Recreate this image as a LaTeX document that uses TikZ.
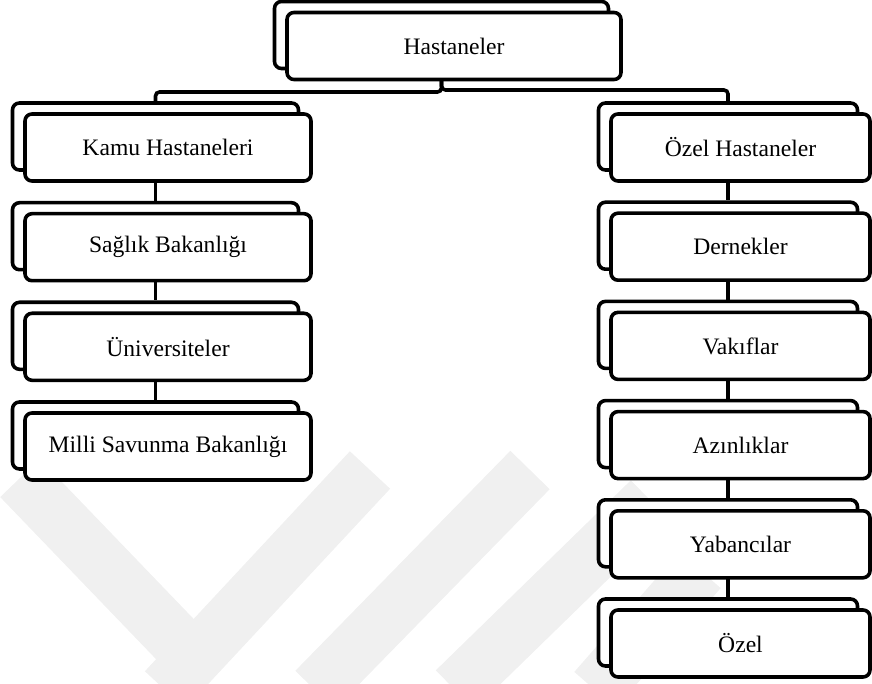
\documentclass[tikz,border=0pt]{standalone}
\usepackage{fontspec}
\setmainfont{Liberation Serif}
\usetikzlibrary{calc}
\pgfdeclarelayer{wmark}
\pgfdeclarelayer{links}
\pgfsetlayers{wmark,links,main}

\tikzset{
  x=1pt, y=-1pt,
  orgbox/.style={draw=black, line width=3.6pt, rounded corners=7pt, fill=white,
    inner sep=0pt, minimum height=67pt, font=\rmfamily\fontsize{23.6}{28}\selectfont},
  leftbox/.style={orgbox, minimum width=286pt},
  rightbox/.style={orgbox, minimum width=259pt},
  topbox/.style={orgbox, minimum width=334pt},
  link/.style={draw=black, line width=3.6pt, rounded corners=4pt},
  wmstroke/.style={draw=black!6, line width=55pt, line cap=butt},
}

% a box with its shadow copy set up and to the left
\newcommand{\boxpair}[5]{%
  \node[#1] (#2b) at ($(#3,#4)+(-12.5,-11)$) {};
  \node[#1] (#2) at (#3,#4) {#5};
}

\begin{document}
\begin{tikzpicture}
\useasboundingbox (0,0) rectangle (872,684);

% faint background watermark stripes
\begin{pgfonlayer}{wmark}
  \begin{scope}
    \clip (0,0) rectangle (872,684);
    \draw[wmstroke] (20,478) -- (195,660);
    \draw[wmstroke] (165,690) -- (370,470);
    \draw[wmstroke] (315,690) -- (530,470);
    \draw[wmstroke] (455,690) -- (650,500);
    \draw[wmstroke] (595,690) -- (700,570);
  \end{scope}
\end{pgfonlayer}

% top
\boxpair{topbox}{h}{454}{46}{Hastaneler}

% public hospitals
\boxpair{leftbox}{kamu}{168}{147.5}{Kamu Hastaneleri}
\boxpair{leftbox}{saglik}{168}{247.2}{Sağlık Bakanlığı}
\boxpair{leftbox}{univ}{168}{346.8}{Üniversiteler}
\boxpair{leftbox}{msb}{168}{446.5}{Milli Savunma Bakanlığı}

% private hospitals
\boxpair{rightbox}{ozh}{740.5}{147.5}{Özel Hastaneler}
\boxpair{rightbox}{dern}{740.5}{246.7}{Dernekler}
\boxpair{rightbox}{vakif}{740.5}{345.9}{Vakıflar}
\boxpair{rightbox}{azin}{740.5}{445.1}{Azınlıklar}
\boxpair{rightbox}{yab}{740.5}{544.3}{Yabancılar}
\boxpair{rightbox}{ozel}{740.5}{643.5}{Özel}

% connectors
\begin{pgfonlayer}{links}
  \draw[link] (hb.south) -- (hb.south |- 0,92) -| (kamub.north);
  \draw[link] (hb.south) -- (hb.south |- 0,90) -| (ozhb.north);
  \draw[link] (kamub.south) -- (saglikb.north);
  \draw[link] (saglikb.south) -- (univb.north);
  \draw[link] (univb.south) -- (msbb.north);
  \draw[link] (ozhb.south) -- (dernb.north);
  \draw[link] (dernb.south) -- (vakifb.north);
  \draw[link] (vakifb.south) -- (azinb.north);
  \draw[link] (azinb.south) -- (yabb.north);
  \draw[link] (yabb.south) -- (ozelb.north);
\end{pgfonlayer}
\end{tikzpicture}
\end{document}
